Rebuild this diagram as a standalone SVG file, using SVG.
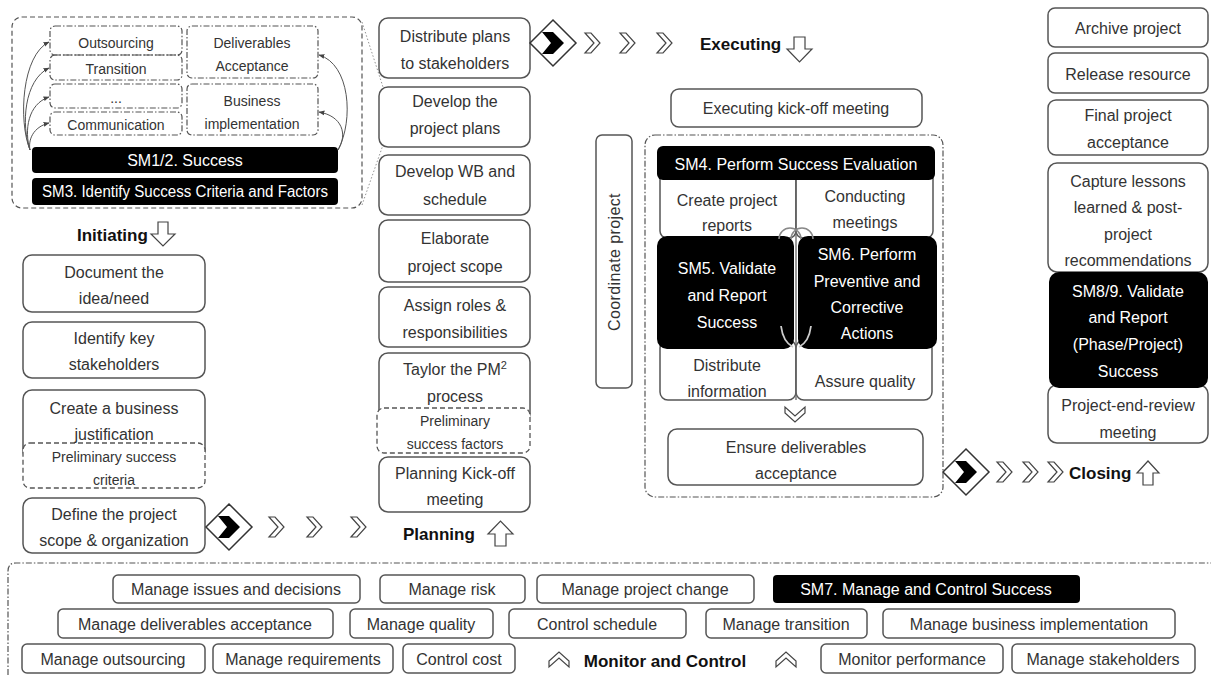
<svg xmlns="http://www.w3.org/2000/svg" width="1211" height="675" viewBox="0 0 1211 675">
<style>
.b{fill:#fff;stroke:#555;stroke-width:1.5}
.k{fill:#000}
.d{fill:#fff;stroke:#555;stroke-width:1.3;stroke-dasharray:5 3}
.dd{fill:none;stroke:#555;stroke-width:1.2;stroke-dasharray:6 2 1.5 2}
.t{font-family:"Liberation Sans Narrow","Liberation Sans",sans-serif;font-size:16px;fill:#333;text-anchor:middle}
.w{fill:#fff}
.s{font-size:14px}
.p{font-family:"Liberation Sans Narrow","Liberation Sans",sans-serif;font-weight:bold;font-size:17px;fill:#111}
.ch{fill:#fff;stroke:#444;stroke-width:1.2}
.ar{fill:#fff;stroke:#444;stroke-width:1.2}
.cv{fill:none;stroke:#555;stroke-width:1}
</style>
<defs>
<marker id="ah" viewBox="0 0 10 10" refX="9" refY="5" markerWidth="6" markerHeight="6" orient="auto"><path d="M0,1 L10,5 L0,9 z" fill="#444"/></marker>
<g id="chev"><polygon class="ch" points="-7,-10 -1,-10 8,0 -1,10 -7,10 2,0"/></g>
<g id="dia"><polygon points="0,-23 23,0 0,23 -23,0" fill="#fff" stroke="#333" stroke-width="1.5"/><polygon points="-11,-11 0,-11 11,0 0,11 -11,11 -2,0" fill="#000"/></g>
</defs>

<!-- Top-left zoom container -->
<g id="success-container">
<rect x="12" y="17" width="350" height="191" rx="10" fill="none" stroke="#555" stroke-width="1.2" stroke-dasharray="5 3"/>
<line x1="362" y1="22" x2="383" y2="87" stroke="#777" stroke-width="0.8" stroke-dasharray="1.5 2"/>
<line x1="362" y1="205" x2="383" y2="145" stroke="#777" stroke-width="0.8" stroke-dasharray="1.5 2"/>
</g>
<g id="n-outsourcing"><rect class="dd" x="50" y="26" width="132" height="29" rx="5"/><text class="t s" x="116" y="48">Outsourcing</text></g>
<g id="n-transition"><rect class="dd" x="50" y="55" width="132" height="25" rx="5"/><text class="t s" x="116" y="74">Transition</text></g>
<g id="n-dots"><rect class="dd" x="50" y="84" width="132" height="24" rx="5"/><text class="t s" x="116" y="103">...</text></g>
<g id="n-communication"><rect class="dd" x="50" y="112" width="132" height="23" rx="5"/><text class="t s" x="116" y="130">Communication</text></g>
<g id="n-deliv"><rect class="dd" x="187" y="26" width="131" height="52" rx="5"/><text class="t s" x="252" y="48">Deliverables</text><text class="t s" x="252" y="71">Acceptance</text></g>
<g id="n-business"><rect class="dd" x="187" y="84" width="131" height="51" rx="5"/><text class="t s" x="252" y="106">Business</text><text class="t s" x="252" y="129">implementation</text></g>
<g id="n-sm12"><rect class="k" x="32" y="147" width="306" height="26" rx="4"/><text class="t w" x="185" y="166">SM1/2. Success</text></g>
<g id="n-sm3"><rect class="k" x="32" y="178" width="306" height="27" rx="4"/><text class="t w" x="185" y="197" font-size="15" textLength="286" lengthAdjust="spacingAndGlyphs">SM3. Identify Success Criteria and Factors</text></g>

<!-- Initiating column -->
<g id="lbl-initiating"><text class="p" x="77" y="241">Initiating</text><polygon class="ar" points="158,222 168,222 168,234 175,234 163,246 151,234 158,234"/></g>
<g id="n-document"><rect class="b" x="23" y="255" width="182" height="57" rx="9"/><text class="t" x="114" y="278">Document the</text><text class="t" x="114" y="304">idea/need</text></g>
<g id="n-identify"><rect class="b" x="23" y="322" width="182" height="56" rx="9"/><text class="t" x="114" y="344">Identify key</text><text class="t" x="114" y="370">stakeholders</text></g>
<g id="n-create"><rect class="b" x="23" y="390" width="182" height="70" rx="9"/><rect class="d" x="23" y="443" width="182" height="45" rx="7"/><text class="t" x="114" y="414">Create a business</text><text class="t" x="114" y="440">justification</text><text class="t s" x="114" y="462">Preliminary success</text><text class="t s" x="114" y="485">criteria</text></g>
<g id="n-define"><rect class="b" x="23" y="498" width="182" height="55" rx="9"/><text class="t" x="114" y="520">Define the project</text><text class="t" x="114" y="546">scope &amp; organization</text></g>
<g id="flow-planning"><use href="#dia" x="229" y="527"/><use href="#chev" x="276" y="527"/><use href="#chev" x="314" y="527"/><use href="#chev" x="358" y="527"/></g>
<g id="lbl-planning"><text class="p" x="403" y="540">Planning</text><polygon class="ar" points="495,546 506,546 506,534 513,534 500.5,521 488,534 495,534"/></g>

<!-- Planning column -->
<g id="n-distribute-plans"><rect class="b" x="379" y="18" width="151" height="60" rx="9"/><text class="t" x="455" y="42">Distribute plans</text><text class="t" x="455" y="69">to stakeholders</text></g>
<g id="n-develop-plans"><rect class="b" x="379" y="87" width="151" height="60" rx="9"/><text class="t" x="455" y="107">Develop the</text><text class="t" x="455" y="134">project plans</text></g>
<g id="n-develop-wb"><rect class="b" x="379" y="155" width="151" height="60" rx="9"/><text class="t" x="455" y="177">Develop WB and</text><text class="t" x="455" y="205">schedule</text></g>
<g id="n-elaborate"><rect class="b" x="379" y="220" width="151" height="62" rx="9"/><text class="t" x="455" y="244">Elaborate</text><text class="t" x="455" y="272">project scope</text></g>
<g id="n-assign"><rect class="b" x="379" y="287" width="151" height="60" rx="9"/><text class="t" x="455" y="311">Assign roles &amp;</text><text class="t" x="455" y="338">responsibilities</text></g>
<g id="n-taylor"><rect class="b" x="379" y="353" width="151" height="70" rx="9"/><rect class="d" x="377" y="408" width="153" height="45" rx="7"/><text class="t" x="455" y="375">Taylor the PM<tspan dy="-6" font-size="11">2</tspan></text><text class="t" x="455" y="402">process</text><text class="t s" x="455" y="426">Preliminary</text><text class="t s" x="455" y="449">success factors</text></g>
<g id="n-planning-kickoff"><rect class="b" x="379" y="457" width="151" height="55" rx="9"/><text class="t" x="455" y="479">Planning Kick-off</text><text class="t" x="455" y="505">meeting</text></g>
<g id="flow-executing"><use href="#dia" x="553" y="43"/><use href="#chev" x="592" y="43"/><use href="#chev" x="627" y="43"/><use href="#chev" x="664" y="43"/></g>
<g id="lbl-executing"><text class="p" x="700" y="50">Executing</text><polygon class="ar" points="794,37 805,37 805,49 812,49 799.5,62 787,49 794,49"/></g>

<!-- Executing -->
<g id="n-exec-kickoff"><rect class="b" x="671" y="89" width="251" height="38" rx="8"/><text class="t" x="796" y="114">Executing kick-off meeting</text></g>
<g id="n-coordinate"><rect class="b" x="596" y="135" width="36" height="253" rx="6"/><text class="t" transform="rotate(-90 614 262)" x="614" y="268" font-size="17" letter-spacing="0.4">Coordinate  project</text></g>
<g id="exec-container"><rect class="dd" x="645" y="135" width="298" height="362" rx="10"/></g>
<g id="n-create-reports"><rect class="b" x="660" y="170" width="136" height="68" rx="7"/><text class="t" x="727" y="206">Create project</text><text class="t" x="727" y="231">reports</text></g>
<g id="n-conducting"><rect class="b" x="796" y="170" width="137" height="68" rx="7"/><text class="t" x="865" y="202">Conducting</text><text class="t" x="865" y="228">meetings</text></g>
<g id="n-distribute-info"><rect class="b" x="660" y="340" width="136" height="60" rx="8"/><text class="t" x="727" y="371">Distribute</text><text class="t" x="727" y="397">information</text></g>
<g id="n-assure"><rect class="b" x="796" y="340" width="136" height="60" rx="8"/><text class="t" x="865" y="387">Assure quality</text></g>
<g id="n-sm4"><rect class="k" x="657" y="146" width="278" height="34" rx="6"/><text class="t w" x="796" y="170">SM4. Perform Success Evaluation</text></g>
<g id="n-sm5"><rect class="k" x="657" y="236" width="137" height="113" rx="10"/><text class="t w" x="727" y="274">SM5. Validate</text><text class="t w" x="727" y="301">and Report</text><text class="t w" x="727" y="328">Success</text></g>
<g id="n-sm6"><rect class="k" x="798" y="236" width="139" height="113" rx="10"/><text class="t w" x="867" y="260">SM6. Perform</text><text class="t w" x="867" y="287">Preventive and</text><text class="t w" x="867" y="313">Corrective</text><text class="t w" x="867" y="339">Actions</text></g>
<g id="connectors-exec">
<line x1="796" y1="180" x2="796" y2="400" stroke="#666" stroke-width="1.3"/>
<path d="M779,239 A11 11 0 0 1 801,239 M791,239 A11 11 0 0 1 813,239" fill="none" stroke="#888" stroke-width="1.5"/>
<path d="M781,326 Q783,342 793,347 M811,326 Q809,342 799,347" fill="none" stroke="#ccc" stroke-width="1.8"/>
</g>
<g id="chev-down"><use href="#chev" transform="translate(795 414) rotate(90)"/></g>
<g id="n-ensure"><rect class="b" x="668" y="429" width="255" height="56" rx="9"/><text class="t" x="796" y="453">Ensure deliverables</text><text class="t" x="796" y="479">acceptance</text></g>
<g id="flow-closing"><use href="#dia" x="966" y="472"/><use href="#chev" x="1004" y="472"/><use href="#chev" x="1030" y="472"/><use href="#chev" x="1055" y="472"/></g>
<g id="lbl-closing"><text class="p" x="1069" y="479">Closing</text><polygon class="ar" points="1143,485 1153,485 1153,473 1159,473 1148,461 1137,473 1143,473"/></g>

<!-- Closing column -->
<g id="n-archive"><rect class="b" x="1048" y="8" width="160" height="39" rx="7"/><text class="t" x="1128" y="34">Archive project</text></g>
<g id="n-release"><rect class="b" x="1048" y="53" width="160" height="40" rx="7"/><text class="t" x="1128" y="80">Release resource</text></g>
<g id="n-final"><rect class="b" x="1048" y="100" width="160" height="55" rx="8"/><text class="t" x="1128" y="121">Final project</text><text class="t" x="1128" y="148">acceptance</text></g>
<g id="n-capture"><rect class="b" x="1048" y="163" width="160" height="109" rx="9"/><text class="t" x="1128" y="187">Capture lessons</text><text class="t" x="1128" y="213">learned &amp; post-</text><text class="t" x="1128" y="240">project</text><text class="t" x="1128" y="266">recommendations</text></g>
<g id="n-review"><rect class="b" x="1048" y="385" width="160" height="58" rx="9"/><text class="t" x="1128" y="411">Project-end-review</text><text class="t" x="1128" y="438">meeting</text></g>
<g id="n-sm89"><rect class="k" x="1049" y="272" width="159" height="116" rx="10"/><text class="t w" x="1128" y="297">SM8/9. Validate</text><text class="t w" x="1128" y="323">and Report</text><text class="t w" x="1128" y="350">(Phase/Project)</text><text class="t w" x="1128" y="377">Success</text></g>

<!-- Monitor and control -->
<g id="monitor-container"><path class="dd" d="M8,675 L8,571 Q8,563 16,563 L1211,563"/></g>
<g id="n-issues"><rect class="b" x="113" y="575" width="247" height="28" rx="5"/><text class="t" x="236" y="595">Manage issues and decisions</text></g>
<g id="n-risk"><rect class="b" x="380" y="575" width="145" height="28" rx="5"/><text class="t" x="452" y="595">Manage risk</text></g>
<g id="n-change"><rect class="b" x="537" y="575" width="217" height="28" rx="5"/><text class="t" x="645" y="595">Manage project change</text></g>
<g id="n-sm7"><rect class="k" x="773" y="575" width="307" height="28" rx="4"/><text class="t w" x="926" y="595">SM7. Manage and Control Success</text></g>
<g id="n-deliv-acc"><rect class="b" x="58" y="609" width="275" height="29" rx="5"/><text class="t" x="195" y="630">Manage deliverables acceptance</text></g>
<g id="n-quality"><rect class="b" x="350" y="609" width="143" height="29" rx="5"/><text class="t" x="421" y="630">Manage quality</text></g>
<g id="n-schedule"><rect class="b" x="509" y="609" width="177" height="29" rx="5"/><text class="t" x="597" y="630">Control schedule</text></g>
<g id="n-transition2"><rect class="b" x="706" y="609" width="161" height="29" rx="5"/><text class="t" x="786" y="630">Manage transition</text></g>
<g id="n-bizimpl"><rect class="b" x="883" y="609" width="292" height="29" rx="5"/><text class="t" x="1029" y="630">Manage business implementation</text></g>
<g id="n-outsourcing2"><rect class="b" x="22" y="644" width="183" height="29" rx="5"/><text class="t" x="113" y="665">Manage outsourcing</text></g>
<g id="n-requirements"><rect class="b" x="213" y="644" width="180" height="29" rx="5"/><text class="t" x="303" y="665">Manage requirements</text></g>
<g id="n-cost"><rect class="b" x="403" y="644" width="112" height="29" rx="5"/><text class="t" x="459" y="665">Control cost</text></g>
<g id="lbl-monitor"><use href="#chev" transform="translate(559 660) rotate(-90)"/><text class="p" x="665" y="667" text-anchor="middle">Monitor and Control</text><use href="#chev" transform="translate(786 660) rotate(-90)"/></g>
<g id="n-performance"><rect class="b" x="821" y="644" width="182" height="29" rx="5"/><text class="t" x="912" y="665">Monitor performance</text></g>
<g id="n-stakeholders"><rect class="b" x="1012" y="644" width="183" height="29" rx="5"/><text class="t" x="1103" y="665">Manage stakeholders</text></g>

<g id="connectors">
<path class="cv" marker-end="url(#ah)" d="M30,150 C18,120 22,55 49,42"/>
<path class="cv" marker-end="url(#ah)" d="M30,150 C21,125 24,80 49,68"/>
<path class="cv" marker-end="url(#ah)" d="M30,150 C24,130 28,104 49,97"/>
<path class="cv" marker-end="url(#ah)" d="M30,150 C28,140 33,127 49,123"/>
<path class="cv" marker-end="url(#ah)" d="M338,150 C354,120 350,64 319,55"/>
<path class="cv" marker-end="url(#ah)" d="M338,150 C348,134 342,116 319,112"/>
</g>
</svg>
